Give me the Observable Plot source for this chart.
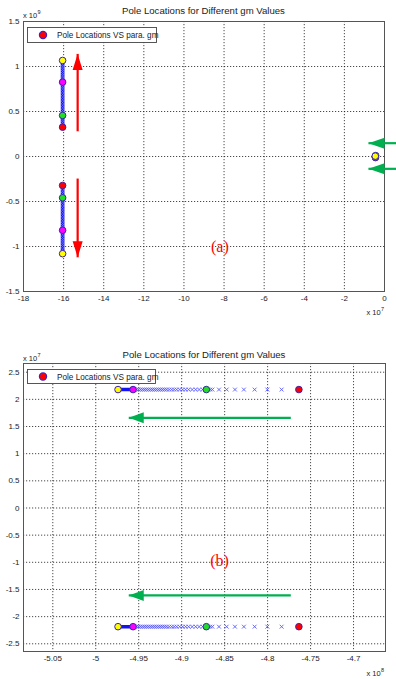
<!DOCTYPE html>
<html><head><meta charset="utf-8">
<script src="https://cdn.jsdelivr.net/npm/d3@7"></script>
<script src="https://cdn.jsdelivr.net/npm/@observablehq/plot@0.6"></script>
<style>
body{margin:0;background:#fff;width:396px;height:679px;overflow:hidden}
svg{display:block}
</style></head><body>
<div id="chartA"></div><div id="chartB"></div>
<script>
// ---------- shared text ----------
const titleText = "Pole Locations for Different gm Values";
const legendLabel = "Pole Locations VS para. gm";
const poleColors = ["#ffff00", "#ff00ff", "#22dd22", "#ff0000"]; // yellow, magenta, green, red

// ---------- chart (a) : x in 1e7, y in 1e9 ----------
const aXTicks = [-18, -16, -14, -12, -10, -8, -6, -4, -2, 0];
const aYTicks = [-1.5, -1, -0.5, 0, 0.5, 1, 1.5];
const aBranchX = -16.05;
const aUpperY = [1.067, 1.045, 1.02, 0.995, 0.97, 0.945, 0.92, 0.895, 0.87, 0.848, 0.826, 0.80, 0.775, 0.75, 0.72, 0.69, 0.66, 0.63, 0.60, 0.57, 0.54, 0.51, 0.485, 0.456, 0.43, 0.405, 0.38, 0.355, 0.326];
const aLowerY = [-1.08, -1.055, -1.03, -1.0, -0.975, -0.95, -0.925, -0.9, -0.87, -0.845, -0.82, -0.795, -0.77, -0.745, -0.715, -0.685, -0.655, -0.625, -0.595, -0.565, -0.535, -0.505, -0.48, -0.459, -0.435, -0.41, -0.385, -0.355, -0.322];
const aPoleUpperY = [1.067, 0.826, 0.456, 0.326];
const aPoleLowerY = [-1.08, -0.82, -0.459, -0.322];
const aClusterX = [-0.46, -0.45, -0.44, -0.455];
const aClusterY = [0.004, -0.012, 0.01, -0.006];
const aArrowX1 = [-15.3, -15.3, 0.65, 0.65];
const aArrowY1 = [0.28, -0.245, 0.148, -0.137];
const aArrowX2 = [-15.3, -15.3, -0.8, -0.8];
const aArrowY2 = [1.14, -1.12, 0.148, -0.137];
const aArrowColor = ["#ff0000", "#ff0000", "#00b050", "#00b050"];
const aArrowDir = ["up", "down", "left", "left"];
const aLabel = {text: "(a)", x: -8.21, y: -1.0};

// ---------- chart (b) : x in 1e8, y in 1e7 ----------
const bXTicks = [-5.05, -5, -4.95, -4.9, -4.85, -4.8, -4.75, -4.7];
const bYTicks = [-2.5, -2, -1.5, -1, -0.5, 0, 0.5, 1, 1.5, 2, 2.5];
const bRowUpperY = 2.18;
const bRowLowerY = -2.185;
const bDenseX = [-4.9741, -4.9712, -4.9683, -4.9655, -4.9625, -4.9595, -4.9566];
const bCrossX = [-4.9547, -4.9523, -4.95, -4.9477, -4.9453, -4.943, -4.9407, -4.9384, -4.936, -4.9337, -4.9314, -4.9291, -4.9267, -4.9244, -4.9221, -4.9198, -4.9174, -4.9145, -4.9116, -4.9087, -4.9058, -4.9023, -4.8988, -4.8954, -4.8919, -4.8878, -4.8837, -4.8797, -4.8756, -4.8669, -4.8643, -4.8566, -4.8477, -4.838, -4.8276, -4.8151, -4.8003, -4.7837];
const bPoleX = [-4.9741, -4.9566, -4.8713, -4.7636];
const bArrowX1 = [-4.773, -4.773];
const bArrowX2 = [-4.9616, -4.9616];
const bArrowY = [1.66, -1.61];
const bLabel = {text: "(b)", x: -4.856, y: -0.97};

// ---------- helpers ----------
const heads = {
  up:   {draw(c){c.moveTo(0,0);c.lineTo(-5,16);c.lineTo(5,16);c.closePath();}},
  down: {draw(c){c.moveTo(0,0);c.lineTo(-5,-16);c.lineTo(5,-16);c.closePath();}},
  left: {draw(c){c.moveTo(0,0);c.lineTo(16,-5.5);c.lineTo(16,5.5);c.closePath();}},
  leftB:{draw(c){c.moveTo(0,0);c.lineTo(15,-5.5);c.lineTo(15,5.5);c.closePath();}}
};
const fmt = d => String(d);
const baseStyle = {fontFamily: "'Liberation Sans', Arial, sans-serif", fontSize: "8px", color: "#222", background: "white", overflow: "visible"};
const gridOpts = {stroke: "#111", strokeOpacity: 0.85, strokeWidth: 0.9, strokeDasharray: "1.2,1.8"};

function poleDots(xs, ys, order) {
  const pts = xs.map((x, i) => ({x, y: ys[i], c: poleColors[i]}));
  return Plot.dot(order ? order.map(i => pts[i]) : pts, {x: "x", y: "y", r: 3.3, fill: "c", stroke: "#3a22b0", strokeWidth: 1});
}

function decorate(svg, o) {
  const s = d3.select(svg);
  const f = "'Liberation Sans', Arial, sans-serif";
  s.append("text").attr("x", o.titleX).attr("y", o.titleY).attr("text-anchor", "middle")
    .attr("font-family", f).attr("font-size", 9.6).attr("fill", "#222").text(titleText);
  const e1 = s.append("text").attr("font-family", f).attr("fill", "#222").attr("text-anchor", "start");
  e1.append("tspan").attr("x", o.expTL[0]).attr("y", o.expTL[1]).attr("font-size", 7.5).text("x 10");
  e1.append("tspan").attr("x", o.expTL[0] + 14.5).attr("y", o.expTL[1] - 4).attr("font-size", 5.5).text(o.expY);
  const e2 = s.append("text").attr("font-family", f).attr("fill", "#222").attr("text-anchor", "start");
  e2.append("tspan").attr("x", o.expBR[0]).attr("y", o.expBR[1]).attr("font-size", 7.5).text("x 10");
  e2.append("tspan").attr("x", o.expBR[0] + 14.5).attr("y", o.expBR[1] - 4).attr("font-size", 5.5).text(o.expX);
  const g = s.append("g").attr("text-anchor", "start");
  g.append("rect").attr("x", o.leg[0]).attr("y", o.leg[1]).attr("width", o.leg[2]).attr("height", o.leg[3])
    .attr("fill", "white").attr("stroke", "#444").attr("stroke-width", 0.9);
  g.append("circle").attr("cx", o.leg[0] + 15.5).attr("cy", o.leg[1] + o.leg[3] / 2).attr("r", 3.6)
    .attr("fill", "#ff0000").attr("stroke", "#3a22d0").attr("stroke-width", 1.2);
  g.append("text").attr("x", o.leg[0] + 29.5).attr("y", o.leg[1] + o.leg[3] / 2 + 3)
    .attr("text-anchor", "start")
    .attr("font-family", f).attr("font-size", 8.2).attr("fill", "#222").text(legendLabel);
}

// ---------- chart (a) ----------
const aLinePts = aUpperY.map(y => ({x: aBranchX, y}));
const aLinePtsL = aLowerY.map(y => ({x: aBranchX, y}));
const aArrows = aArrowX1.map((x1, i) => ({x1, y1: aArrowY1[i], x2: aArrowX2[i], y2: aArrowY2[i], c: aArrowColor[i], d: aArrowDir[i]}));

const chartA = Plot.plot({
  width: 396, height: 330,
  marginTop: 21, marginBottom: 39, marginLeft: 23, marginRight: 12,
  x: {domain: [-18, 0], label: null},
  y: {domain: [-1.5, 1.5], label: null},
  style: baseStyle,
  marks: [
    Plot.gridX(aXTicks, gridOpts),
    Plot.gridY(aYTicks, gridOpts),
    Plot.axisX(aXTicks, {tickSize: 0, tickPadding: 4, tickFormat: fmt, label: null}),
    Plot.axisY(aYTicks, {tickSize: 0, tickPadding: 4, tickFormat: fmt, label: null}),
    Plot.frame({stroke: "#555", strokeWidth: 1}),
    Plot.line(aLinePts, {x: "x", y: "y", stroke: "#1414f0", strokeWidth: 3.6}),
    Plot.line(aLinePtsL, {x: "x", y: "y", stroke: "#1414f0", strokeWidth: 3.6}),
    Plot.dot(aLinePts.concat(aLinePtsL), {x: "x", y: "y", symbol: "times", r: 1.8, stroke: "#8a8aff", strokeWidth: 0.7, strokeOpacity: 0.8}),
    poleDots([aBranchX, aBranchX, aBranchX, aBranchX], aPoleUpperY),
    poleDots([aBranchX, aBranchX, aBranchX, aBranchX], aPoleLowerY),
    Plot.dot(aClusterX.map((x, i) => ({x, y: aClusterY[i]})), {x: "x", y: "y", symbol: "times", r: 2, stroke: "#3030ff", strokeWidth: 0.8}),
    poleDots(aClusterX, aClusterY, [3, 1, 2, 0]),
    Plot.link(aArrows, {x1: "x1", y1: "y1", x2: "x2", y2: "y2", stroke: "c", strokeWidth: 2.2}),
    Plot.dot(aArrows, {x: "x2", y: "y2", r: 5, fill: "c", stroke: null, symbol: d => heads[d.d]}),
    Plot.text([aLabel], {x: "x", y: "y", text: "text", fill: "#ff0000", fontFamily: "'Liberation Serif', 'Times New Roman', serif", fontSize: 16})
  ]
});
document.getElementById("chartA").appendChild(chartA);
decorate(chartA, {titleX: 203.5, titleY: 14, expTL: [23, 17.5], expBR: [366.5, 315], expY: "9", expX: "7", leg: [27.5, 27.5, 129, 15]});

// ---------- chart (b) ----------
const bArrows = bArrowX1.map((x1, i) => ({x1, x2: bArrowX2[i], y: bArrowY[i]}));
const bRows = [bRowUpperY, bRowLowerY];
const bDensePts = bRows.flatMap(y => bDenseX.map(x => ({x, y})));
const bCrossPts = bRows.flatMap(y => bCrossX.map(x => ({x, y})));

const chartB = Plot.plot({
  width: 396, height: 349,
  marginTop: 33, marginBottom: 28, marginLeft: 23, marginRight: 11,
  x: {domain: [-5.0841, -4.6628], label: null},
  y: {domain: [-2.642, 2.66], label: null},
  style: baseStyle,
  marks: [
    Plot.gridX(bXTicks, gridOpts),
    Plot.gridY(bYTicks, gridOpts),
    Plot.axisX(bXTicks, {tickSize: 0, tickPadding: 4, tickFormat: fmt, label: null}),
    Plot.axisY(bYTicks, {tickSize: 0, tickPadding: 4, tickFormat: fmt, label: null}),
    Plot.frame({stroke: "#555", strokeWidth: 1}),
    Plot.dot(bCrossPts, {x: "x", y: "y", symbol: "times", r: 1.9, stroke: "#5a5aff", strokeWidth: 0.9}),
    Plot.line(bDensePts.filter(d => d.y > 0), {x: "x", y: "y", stroke: "#1414f0", strokeWidth: 3.6}),
    Plot.line(bDensePts.filter(d => d.y < 0), {x: "x", y: "y", stroke: "#1414f0", strokeWidth: 3.6}),
    poleDots(bPoleX, [bRowUpperY, bRowUpperY, bRowUpperY, bRowUpperY]),
    poleDots(bPoleX, [bRowLowerY, bRowLowerY, bRowLowerY, bRowLowerY]),
    Plot.link(bArrows, {x1: "x1", y1: "y", x2: "x2", y2: "y", stroke: "#00b050", strokeWidth: 2.2}),
    Plot.dot(bArrows, {x: "x2", y: "y", r: 5, fill: "#00b050", stroke: null, symbol: () => heads.leftB}),
    Plot.text([bLabel], {x: "x", y: "y", text: "text", fill: "#ff0000", fontFamily: "'Liberation Serif', 'Times New Roman', serif", fontSize: 16})
  ]
});
document.getElementById("chartB").appendChild(chartB);
decorate(chartB, {titleX: 204, titleY: 28, expTL: [23, 30.5], expBR: [366.5, 345.5], expY: "7", expX: "8", leg: [27.5, 39.5, 128, 14]});
</script>
</body></html>
